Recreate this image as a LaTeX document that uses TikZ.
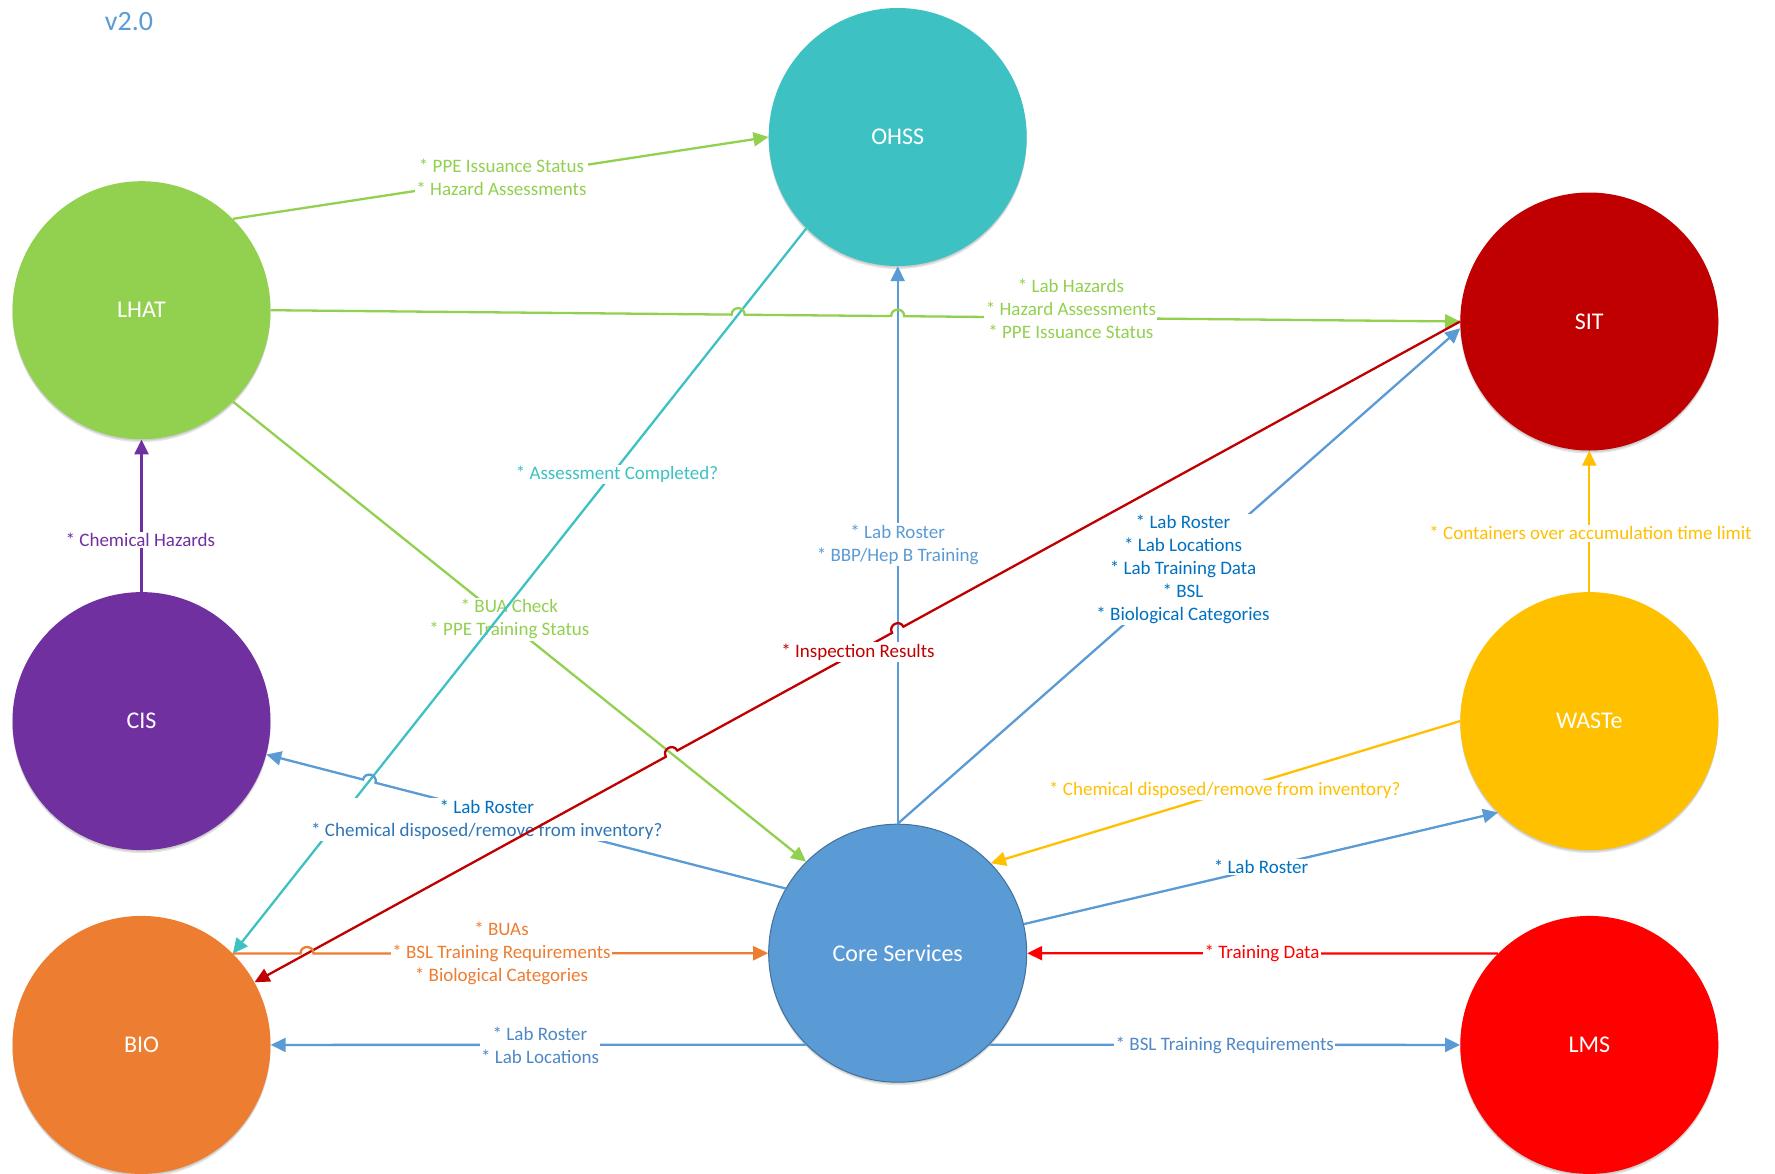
\documentclass[tikz,border=0pt]{standalone}
\usepackage{fontspec}
\setmainfont{Carlito}
\usetikzlibrary{arrows.meta,calc}
\definecolor{cTeal}{HTML}{3EC1C3}
\definecolor{cGreen}{HTML}{92D050}
\definecolor{cDarkRed}{HTML}{C00000}
\definecolor{cPurple}{HTML}{7030A0}
\definecolor{cYellow}{HTML}{FFC000}
\definecolor{cBlue}{HTML}{5B9BD5}
\definecolor{cBlueDark}{HTML}{0070C0}
\definecolor{cBlueMid}{HTML}{2E75B6}
\definecolor{cBlueLbl}{HTML}{4F88C6}
\definecolor{cOrange}{HTML}{ED7D31}
\definecolor{cRed}{HTML}{FF0000}
\definecolor{cBorder}{HTML}{41719C}
\begin{document}
\begin{tikzpicture}[x=1pt,y=-1pt,
 sys/.style={circle, minimum size=258pt, inner sep=0pt, text=white, font=\fontsize{24}{29}\selectfont,
   preaction={fill=black, opacity=0.10, transform canvas={yshift=-3pt}},
   preaction={fill=black, opacity=0.10, transform canvas={yshift=-1.5pt}}},
 conn/.style={line width=2.3pt, -{Triangle[length=15pt,width=14pt]}},
 lbl/.style={fill=white, inner sep=1.5pt, align=center, font=\fontsize{19}{23}\selectfont},
 jumpover/.style n args={5}{insert path={-- ($(#1)!6.5pt!(#2)$) .. controls ($(#1)!6.5pt!(#2)!8.7pt!#4:(#1)$) and ($(#1)!6.5pt!(#3)!8.7pt!#5:(#1)$) .. ($(#1)!6.5pt!(#3)$)}}
]
\useasboundingbox (0,0) rectangle (1775,1173);
\fill[white] (0,0) rectangle (1775,1173);

\node[text=cBlue, font=\fontsize{28}{34}\selectfont] (ver) at (129,21.5) {v2.0};

\node[sys, fill=cTeal] (ohss) at (897.7,137) {OHSS};
\node[sys, fill=cGreen] (lhat) at (141.5,310.2) {LHAT};
\node[sys, fill=cDarkRed] (sit) at (1589.3,321.5) {SIT};
\node[sys, fill=cPurple] (cis) at (141.5,721.1) {CIS};
\node[sys, fill=cYellow] (waste) at (1589.3,721.1) {WASTe};
\node[sys, fill=cBlue, draw=cBorder, line width=1pt] (core) at (897.7,953.2) {Core Services};
\node[sys, fill=cOrange] (bio) at (141.5,1044.9) {BIO};
\node[sys, fill=cRed] (lms) at (1589.3,1044.9) {LMS};

\coordinate (tA) at (ohss.-135); \coordinate (tB) at (bio.45.5);
\coordinate (gA) at (lhat.0); \coordinate (gB) at (sit.180);
\coordinate (vA) at (core.90); \coordinate (vB) at (ohss.270);
\coordinate (cA) at (core.150); \coordinate (cB) at (cis.-15);
\coordinate (rA) at (sit.180); \coordinate (rB) at (bio.29);
\coordinate (gcA) at (lhat.-45); \coordinate (gcB) at (core.135);
\coordinate (oA) at (bio.45); \coordinate (oB) at (core.180);

% LHAT -> OHSS
\draw[conn, cGreen] (lhat.45) -- (ohss.180);
\node[lbl, text=cGreen] (l1) at (501.5,177.7) {* PPE Issuance Status\\* Hazard Assessments};

% Core -> OHSS
\draw[conn, cBlue] (vA) -- (vB);
\node[lbl, text=cBlue] (l6) at (897.7,544.5) {* Lab Roster\\* BBP/Hep B Training};

% LHAT -> Core
\draw[conn, cGreen] (gcA) -- (gcB);
\node[lbl, text=cGreen] (l3) at (509.4,619.2) {* BUA Check\\* PPE Training Status};

% OHSS -> BIO
\draw[conn, cTeal] (tA) -- (tB);
\node[lbl, text=cTeal] (l5) at (617,474.3) {* Assessment Completed?};

% LHAT -> SIT
\coordinate (j1) at (intersection of gA--gB and tA--tB);
\coordinate (j2) at (intersection of gA--gB and vA--vB);
\draw[conn, cGreen] (gA) [jumpover={j1}{gA}{gB}{90}{-90}] [jumpover={j2}{gA}{gB}{90}{-90}] -- (gB);
\node[lbl, text=cGreen] (l2) at (1070.9,309) {* Lab Hazards\\* Hazard Assessments\\* PPE Issuance Status};

% CIS -> LHAT
\draw[conn, cPurple] (cis.90) -- (lhat.270);
\node[lbl, text=cPurple] (l4) at (140.4,540) {* Chemical Hazards};

% Core -> CIS
\coordinate (j3) at (intersection of cA--cB and tA--tB);
\draw[conn, cBlue] (cA) [jumpover={j3}{cA}{cB}{-90}{90}] -- (cB);
\node[lbl, text=cBlueMid] (l9) at (486.8,819.6) {\textcolor{cBlueDark}{* Lab Roster}\\* Chemical disposed/remove from inventory?};

% Core -> SIT
\draw[conn, cBlue] (core.90) -- (sit.183);
\node[lbl, text=cBlueDark] (l7) at (1183,569.4) {* Lab Roster\\* Lab Locations\\* Lab Training Data\\* BSL\\* Biological Categories};

% SIT -> BIO
\coordinate (j4) at (intersection of rA--rB and vA--vB);
\coordinate (j5) at (intersection of rA--rB and gcA--gcB);
\draw[conn, cDarkRed] (rA) [jumpover={j4}{rA}{rB}{-90}{90}] [jumpover={j5}{rA}{rB}{-90}{90}] -- (rB);
\node[lbl, text=cDarkRed] (l8) at (858,652) {* Inspection Results};

% BIO -> Core
\coordinate (j6) at (intersection of oA--oB and rA--rB);
\draw[conn, cOrange] (oA) [jumpover={j6}{oA}{oB}{90}{-90}] -- (oB);
\node[lbl, text=cOrange] (l13) at (501.5,953.2) {* BUAs\\* BSL Training Requirements\\* Biological Categories};

% Core -> BIO
\draw[conn, cBlue] (core.225) -- (bio.0);
\node[lbl, text=cBlueLbl] (l14) at (540,1044.9) {* Lab Roster\\* Lab Locations};

% Core -> LMS
\draw[conn, cBlue] (core.-45) -- (lms.180);
\node[lbl, text=cBlueLbl] (l15) at (1224.8,1044.9) {* BSL Training Requirements};

% LMS -> Core
\draw[conn, cRed] (lms.135) -- (core.0);
\node[lbl, text=cRed] (l12) at (1262,953.2) {* Training Data};

% WASTe -> Core
\draw[conn, cYellow] (waste.180) -- (core.44);
\node[lbl, text=cYellow] (l10) at (1224.8,790) {* Chemical disposed/remove from inventory?};

% Core -> WASTe
\draw[conn, cBlue] (core.13) -- (waste.225);
\node[lbl, text=cBlueDark] (l11) at (1261,867) {* Lab Roster};

% WASTe -> SIT
\draw[conn, cYellow] (waste.90) -- (sit.270);
\node[lbl, text=cYellow] (l16) at (1590.5,533.2) {* Containers over accumulation time limit};
\end{tikzpicture}
\end{document}
